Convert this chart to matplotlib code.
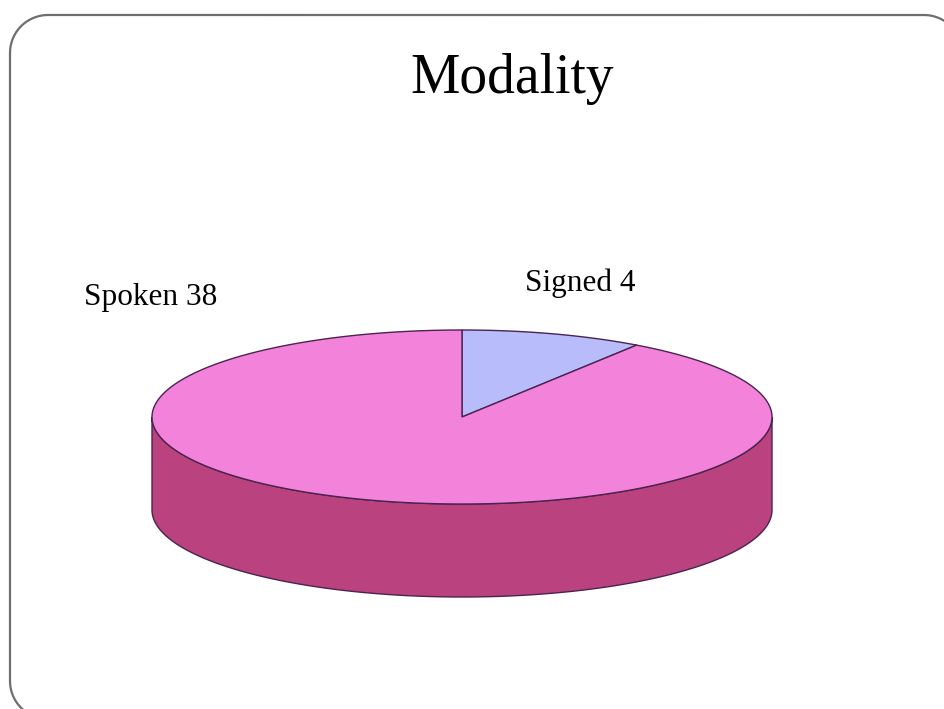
import numpy as np
import matplotlib
matplotlib.use("Agg")
import matplotlib.pyplot as plt
from matplotlib.patches import Polygon

categories = ["Spoken", "Signed"]
values = [38, 4]
top_colors = ["#F383DA", "#B8BCFA"]
side_colors = ["#BA437F", "#8C8FD0"]
edge = "#4B2350"

W, H = 945, 709
fig = plt.figure(figsize=(W / 100, H / 100), dpi=100)
ax = fig.add_axes([0, 0, 1, 1])
ax.set_xlim(0, W)
ax.set_ylim(H, 0)
ax.axis("off")

# rounded slide frame (extends past right and bottom edges)
L, T, R, B, r = 10, 15, 962, 719, 38
def arc(xc, yc, a0, a1):
    t = np.radians(np.linspace(a0, a1, 40))
    return xc + r * np.cos(t), yc + r * np.sin(t)
segs = [arc(L + r, T + r, 180, 270), arc(R - r, T + r, 270, 360),
        arc(R - r, B - r, 0, 90), arc(L + r, B - r, 90, 180)]
fx = np.concatenate([s[0] for s in segs] + [[segs[0][0][0]]])
fy = np.concatenate([s[1] for s in segs] + [[segs[0][1][0]]])
ax.plot(fx, fy, color="#6E6E6E", lw=1.6, zorder=1, solid_capstyle="round")

cx, cy, a, b, depth = 462, 417, 310, 87, 93

def pt(theta_deg):
    # theta measured clockwise from 12 o'clock
    t = np.radians(theta_deg)
    return cx + a * np.sin(t), cy - b * np.cos(t)

total = sum(values)
# Signed slice starts at 12 o'clock and goes clockwise; Spoken covers the rest
order = [1, 0]
start = 0.0
angles = {}
for i in order:
    ext = values[i] / total * 360
    angles[i] = (start, start + ext)
    start += ext

# side walls (visible front half: theta in [90, 270])
for i in order:
    s, e = angles[i]
    lo, hi = max(s, 90), min(e, 270)
    if hi > lo:
        th = np.linspace(lo, hi, 200)
        xs, ys = pt(th)
        poly = np.column_stack([np.concatenate([xs, xs[::-1]]),
                                np.concatenate([ys, ys[::-1] + depth])])
        ax.add_patch(Polygon(poly, closed=True, facecolor=side_colors[i],
                             edgecolor=edge, lw=1.0, zorder=2))

# top faces
for i in order:
    s, e = angles[i]
    th = np.linspace(s, e, 400)
    xs, ys = pt(th)
    poly = np.column_stack([np.concatenate([[cx], xs]), np.concatenate([[cy], ys])])
    ax.add_patch(Polygon(poly, closed=True, facecolor=top_colors[i],
                         edgecolor=edge, lw=1.0, zorder=3))

serif = ["Liberation Serif", "DejaVu Serif"]
ax.text(512, 93, "Modality", fontsize=40, family=serif, ha="center", va="baseline", zorder=5)
ax.text(151, 305, f"{categories[0]} {values[0]}", fontsize=22.5, family=serif,
        ha="center", va="baseline", zorder=5)
ax.text(580, 291, f"{categories[1]} {values[1]}", fontsize=22.5, family=serif,
        ha="center", va="baseline", zorder=5)

fig.savefig("out.png", dpi=100)
